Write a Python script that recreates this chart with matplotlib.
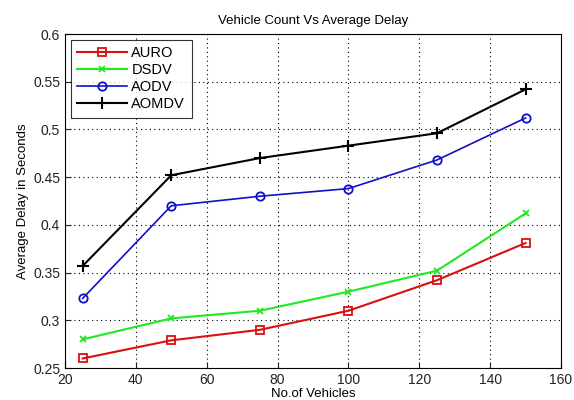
import matplotlib
matplotlib.use("Agg")
import matplotlib.pyplot as plt

# ── Data ──────────────────────────────────────────────────────────────────────
vehicles = [25, 50, 75, 100, 125, 150]
auro  = [0.260, 0.279, 0.290, 0.310, 0.342, 0.381]
dsdv  = [0.280, 0.302, 0.310, 0.330, 0.352, 0.412]
aodv  = [0.323, 0.420, 0.430, 0.438, 0.468, 0.512]
aomdv = [0.357, 0.452, 0.470, 0.483, 0.496, 0.542]

plt.rcParams.update({
    "font.family": ["Liberation Sans", "DejaVu Sans"],
    "font.size": 9,
})

fig = plt.figure(figsize=(5.74, 4.0), dpi=100)
ax = fig.add_axes([65 / 574, 1 - 368 / 400, (561 - 65) / 574, (368 - 34) / 400])

ax.plot(vehicles, auro, color="#d81010", marker="s", markersize=6, mfc="none",
        mew=1.3, lw=1.5, label="AURO")
ax.plot(vehicles, dsdv, color="#22e822", marker="x", markersize=4,
        mew=1.3, lw=1.5, label="DSDV")
ax.plot(vehicles, aodv, color="#1010c8", marker="o", markersize=6, mfc="none",
        mew=1.3, lw=1.2, label="AODV")
ax.plot(vehicles, aomdv, color="black", marker="+", markersize=8,
        mew=1.5, lw=1.5, label="AOMDV")

ax.set_xlim(20, 160)
ax.set_ylim(0.25, 0.6)
ax.set_xticks(range(20, 161, 20))
ax.set_yticks([0.25, 0.3, 0.35, 0.4, 0.45, 0.5, 0.55, 0.6])
ax.set_yticklabels(["0.25", "0.3", "0.35", "0.4", "0.45", "0.5", "0.55", "0.6"])
ax.grid(True, linestyle=(0, (1, 3)), color="black", linewidth=0.8)
ax.tick_params(direction="in", labelsize=10, length=4, colors="#222222")
ax.set_title("Vehicle Count Vs Average Delay", fontsize=9.5, pad=7)
ax.set_xlabel("No.of Vehicles", fontsize=9.5, labelpad=1)
ax.set_ylabel("Average Delay in Seconds", fontsize=9.5, labelpad=3)

leg = ax.legend(loc="upper left", fancybox=False, edgecolor="black",
                fontsize=10.5, handlelength=3.4, borderaxespad=0.4,
                labelspacing=0.2, handletextpad=0.3, borderpad=0.45)
leg.get_frame().set_linewidth(0.8)

plt.savefig("out.png", dpi=100)
